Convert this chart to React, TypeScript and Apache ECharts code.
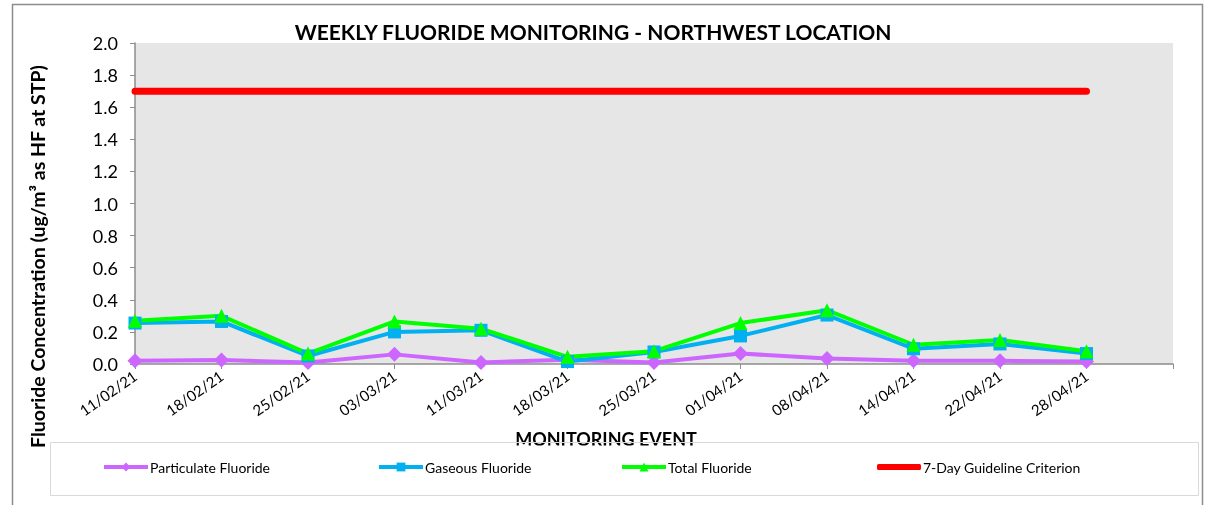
import React, { useEffect, useRef } from "react";
import * as echarts from "echarts";

const categories = [
  "11/02/21", "18/02/21", "25/02/21", "03/03/21", "11/03/21", "18/03/21",
  "25/03/21", "01/04/21", "08/04/21", "14/04/21", "22/04/21", "28/04/21", "",
];
const particulate = [0.02, 0.025, 0.01, 0.06, 0.01, 0.027, 0.01, 0.065, 0.035, 0.02, 0.02, 0.015, null];
const gaseous = [0.255, 0.265, 0.05, 0.2, 0.21, 0.015, 0.075, 0.175, 0.305, 0.095, 0.125, 0.065, null];
const total = [0.27, 0.3, 0.065, 0.265, 0.22, 0.045, 0.08, 0.255, 0.335, 0.12, 0.15, 0.08, null];
const guideline = [1.7, 1.7, 1.7, 1.7, 1.7, 1.7, 1.7, 1.7, 1.7, 1.7, 1.7, 1.7, null];

const seriesNames = [
  "Particulate Fluoride",
  "Gaseous Fluoride",
  "Total Fluoride",
  "7-Day Guideline Criterion",
];

const FONT = "Lato, 'Noto Sans', sans-serif";

export default function App() {
  const ref = useRef<HTMLDivElement>(null);
  useEffect(() => {
    if (!ref.current) return;
    const chart = echarts.init(ref.current, undefined, { renderer: "svg" });
    const legendLefts = [97, 372, 615, 872];
    chart.setOption({
      animation: false,
      textStyle: { fontFamily: FONT },
      title: {
        text: "WEEKLY FLUORIDE MONITORING - NORTHWEST LOCATION",
        left: 588,
        textAlign: "center",
        top: 16,
        textStyle: { fontSize: 21, fontWeight: "bold", color: "#000", fontFamily: FONT },
      },
      grid: {
        left: 135,
        top: 43,
        right: 38,
        bottom: 141,
        show: true,
        backgroundColor: "#e6e6e6",
        borderWidth: 0,
      },
      graphic: [
        {
          type: "rect",
          z: -10,
          silent: true,
          shape: { x: 12.5, y: 4.5, width: 1190, height: 510 },
          style: { fill: "#fff", stroke: "#8c8c8c", lineWidth: 1.5 },
        },
        {
          type: "rect",
          z: 3,
          silent: true,
          shape: { x: 51, y: 445.5, width: 1147, height: 49.5 },
          style: { fill: "#fff", stroke: null },
        },
        {
          type: "rect",
          z: 3,
          silent: true,
          shape: { x: 50.5, y: 442.5, width: 1148, height: 53 },
          style: { fill: null, stroke: "#d9d9d9", lineWidth: 1 },
        },
      ],
      legend: seriesNames.map((n, i) => ({
        data: i === 3 ? [{ name: n, icon: "roundRect" }] : [n],
        left: legendLefts[i],
        top: 455,
        z: 5,
        itemWidth: 44,
        itemHeight: i === 3 ? 6 : 11,
        itemGap: 4,
        lineStyle: { width: 4 },
        textStyle: { fontSize: 14, color: "#000", fontFamily: FONT, padding: [0, 0, 0, -3] },
      })),
      xAxis: {
        type: "category",
        data: categories,
        boundaryGap: false,
        name: "MONITORING EVENT",
        nameLocation: "middle",
        nameGap: 66,
        nameTextStyle: {
          fontSize: 18,
          fontWeight: "bold",
          color: "#000",
          fontFamily: FONT,
          padding: [0, 96, 0, 0],
        },
        axisLine: { lineStyle: { color: "#8c8c8c", width: 1.5 } },
        axisTick: { show: true, length: 5, alignWithLabel: true, lineStyle: { color: "#8c8c8c" } },
        axisLabel: {
          rotate: 35,
          fontSize: 15,
          color: "#000",
          margin: 10,
          interval: 0,
          fontFamily: FONT,
        },
        splitLine: { show: false },
      },
      yAxis: {
        type: "value",
        min: 0,
        max: 2,
        interval: 0.2,
        name: "Fluoride Concentration (ug/m³ as HF at STP)",
        nameLocation: "middle",
        nameGap: 88,
        nameTextStyle: {
          fontSize: 19.5,
          fontWeight: "bold",
          color: "#000",
          fontFamily: FONT,
          padding: [0, 106, 0, 0],
        },
        axisLine: { show: true, lineStyle: { color: "#8c8c8c", width: 1.5 } },
        axisTick: { show: true, length: 5, lineStyle: { color: "#8c8c8c" } },
        axisLabel: {
          fontSize: 18,
          color: "#000",
          margin: 17,
          fontFamily: FONT,
          formatter: (v: number) => v.toFixed(1),
        },
        splitLine: { show: false },
      },
      series: [
        {
          name: seriesNames[0],
          type: "line",
          data: particulate,
          symbol: "diamond",
          symbolSize: 15,
          lineStyle: { width: 4, color: "#cc66ff" },
          itemStyle: { color: "#cc66ff" },
        },
        {
          name: seriesNames[1],
          type: "line",
          data: gaseous,
          symbol: "rect",
          symbolSize: 13,
          lineStyle: { width: 4, color: "#00b0f0" },
          itemStyle: { color: "#00b0f0" },
        },
        {
          name: seriesNames[2],
          type: "line",
          data: total,
          symbol: "triangle",
          symbolSize: 14,
          lineStyle: { width: 4, color: "#00ff00" },
          itemStyle: { color: "#00ff00" },
        },
        {
          name: seriesNames[3],
          type: "line",
          data: guideline,
          symbol: "none",
          lineStyle: { width: 7, color: "#ff0000", cap: "round" },
          itemStyle: { color: "#ff0000" },
        },
      ],
    });
    return () => chart.dispose();
  }, []);
  return (
    <div
      ref={ref}
      style={{ position: "fixed", left: 0, top: 0, width: 1211, height: 505 }}
    />
  );
}
